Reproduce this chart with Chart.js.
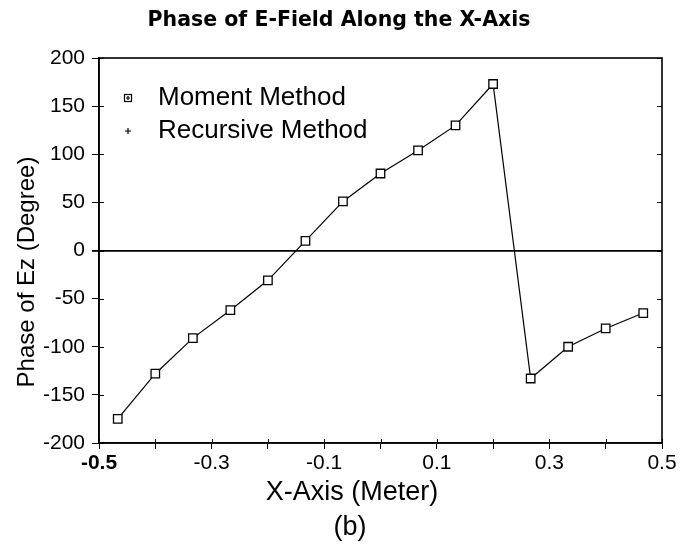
<!DOCTYPE html>
<html>
<head>
<meta charset="utf-8">
<script src="https://cdn.jsdelivr.net/npm/chart.js@4"></script>
<style>
  html, body { margin: 0; padding: 0; background: #fff; }
  #wrap { width: 681px; height: 548px; }
</style>
</head>
<body>
<div id="wrap"><canvas id="phase"></canvas></div>
<script>
// x positions of the samples (meters)
const xPos = [-0.4667, -0.4, -0.3333, -0.2667, -0.2, -0.1333, -0.0667, 0, 0.0667, 0.1333, 0.2, 0.2667, 0.3333, 0.4, 0.4667];
// phase (degrees)
const momentPhase = [-175, -128, -91, -62, -31, 10, 51, 80, 104, 130, 173, -133, -100, -81, -65];
const recursivePhase = [-175, -128, -91, -62, -31, 10, 51, 80, 104, 130, 173, -133, -100, -81, -65];
const xLabels = ['-0.5', '-0.3', '-0.1', '0.1', '0.3', '0.5'];

const FONT = '"Liberation Sans", Arial, sans-serif';

const pts = arr => xPos.map((x, i) => ({ x: x, y: arr[i] }));

// box around plot, inner ticks, axis titles and the legend
const frame = {
    id: 'frame',
    afterDraw(chart) {
        const { ctx, chartArea: a } = chart;
        const ys = chart.scales.y, xs = chart.scales.x;
        ctx.save();
        ctx.strokeStyle = '#000';
        ctx.lineWidth = 1.6;
        ctx.strokeRect(a.left, a.top, a.right - a.left, a.bottom - a.top);

        // short inward ticks on left / right / bottom
        ctx.lineWidth = 1;
        ctx.beginPath();
        ys.ticks.forEach(t => {
            const y = Math.round(ys.getPixelForValue(t.value)) + 0.5;
            ctx.moveTo(a.left, y); ctx.lineTo(a.left + 5, y);
            ctx.moveTo(a.right, y); ctx.lineTo(a.right - 5, y);
        });
        xs.ticks.forEach(t => {
            const x = Math.round(xs.getPixelForValue(t.value)) + 0.5;
            ctx.moveTo(x, a.bottom); ctx.lineTo(x, a.bottom - 4);
        });
        ctx.stroke();

        ctx.fillStyle = '#000';
        ctx.textBaseline = 'middle';

        // axis titles (slightly off-centre like the original)
        ctx.textAlign = 'center';
        ctx.font = '27px ' + FONT;
        ctx.fillText('X-Axis (Meter)', a.left + 253, a.bottom + 50);
        ctx.fillText('(b)', a.left + 251, a.bottom + 85);
        ctx.save();
        ctx.translate(27, a.top + 214);
        ctx.rotate(-Math.PI / 2);
        ctx.font = '24px ' + FONT;
        ctx.fillText('Phase of Ez (Degree)', 0, 0);
        ctx.restore();

        // legend
        const lx = a.left + 29, y1 = a.top + 40, y2 = a.top + 73;
        ctx.textAlign = 'left';
        ctx.font = '26px ' + FONT;
        ctx.fillText('Moment Method', a.left + 59, y1);
        ctx.fillText('Recursive Method', a.left + 59, y2);
        ctx.lineWidth = 1.2;
        ctx.strokeRect(lx - 3.5, y1 - 3.5, 7, 7);
        ctx.beginPath();
        ctx.moveTo(lx - 2, y1); ctx.lineTo(lx + 2, y1);
        ctx.moveTo(lx, y1 - 2); ctx.lineTo(lx, y1 + 2);
        ctx.moveTo(lx - 3, y2); ctx.lineTo(lx + 3, y2);
        ctx.moveTo(lx, y2 - 3); ctx.lineTo(lx, y2 + 3);
        ctx.stroke();
        ctx.restore();
    }
};

const isZero = c => !!(c && c.tick && c.tick.value === 0);

new Chart(document.getElementById('phase'), {
    type: 'scatter',
    data: {
        datasets: [
            {
                label: 'Moment Method',
                data: pts(momentPhase),
                showLine: true,
                borderColor: '#000',
                borderWidth: 1.2,
                pointStyle: 'rect',
                pointRadius: 6,
                pointBackgroundColor: '#fff',
                pointBorderColor: '#000',
                pointBorderWidth: 1.3
            },
            {
                label: 'Recursive Method',
                data: pts(recursivePhase),
                showLine: false,
                pointStyle: 'cross',
                pointRadius: 4,
                pointBorderColor: '#000',
                pointBorderWidth: 1
            }
        ]
    },
    options: {
        responsive: true,
        maintainAspectRatio: false,
        animation: false,
        layout: { padding: { left: 16, right: 19, top: 0, bottom: 0 } },
        plugins: {
            legend: { display: false },
            tooltip: { enabled: false },
            title: {
                display: true,
                text: 'Phase of E-Field Along the X-Axis',
                color: '#000',
                font: { family: '"DejaVu Sans", ' + FONT, size: 20.5, weight: 'bold', lineHeight: 1.2 },
                padding: { top: 8, bottom: 25.4 }
            }
        },
        scales: {
            x: {
                type: 'linear',
                min: -0.5,
                max: 0.5,
                afterFit: s => { s.height = 105; },
                border: { color: '#000', width: 1.6 },
                grid: { display: true, drawOnChartArea: false, drawTicks: true, tickLength: 6, color: '#000' },
                ticks: {
                    stepSize: 0.1,
                    color: '#000',
                    padding: 4,
                    maxRotation: 0,
                    autoSkip: false,
                    font: c => ({
                        family: FONT,
                        size: 21,
                        lineHeight: 1,
                        weight: (c && c.tick && Math.round(c.tick.value * 10) === -5) ? 'bold' : 'normal'
                    }),
                    callback: v => {
                        const k = Math.round(v * 10);
                        const lbl = (k / 10).toFixed(1);
                        return xLabels.includes(lbl) ? lbl : '';
                    }
                }
            },
            y: {
                min: -200,
                max: 200,
                afterFit: s => { s.width = 83; },
                border: { color: '#000', width: 1.6 },
                grid: {
                    drawTicks: true,
                    tickLength: 7,
                    color: c => isZero(c) ? '#000' : 'rgba(0,0,0,0)',
                    tickColor: '#000',
                    lineWidth: c => isZero(c) ? 1.8 : 1
                },
                ticks: {
                    stepSize: 50,
                    color: '#000',
                    padding: 7,
                    font: { family: FONT, size: 21 }
                }
            }
        }
    },
    plugins: [frame]
});
</script>
</body>
</html>
